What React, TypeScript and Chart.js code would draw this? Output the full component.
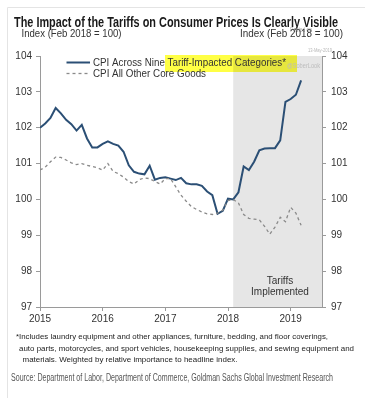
import React, { useEffect, useRef } from "react";
import { Chart, registerables } from "chart.js";

Chart.register(...registerables);

// Monthly index: 0 = Jan 2015 ... 50 = Mar 2019
const tariffCategories = [
  102.0, 102.12, 102.27, 102.55, 102.4, 102.22, 102.1, 101.92, 102.08, 101.7,
  101.45, 101.45, 101.55, 101.62, 101.55, 101.5, 101.33, 100.95, 100.77, 100.72,
  100.7, 100.94, 100.55, 100.6, 100.62, 100.58, 100.54, 100.6, 100.45, 100.42,
  100.42, 100.38, 100.22, 100.12, 99.6, 99.68, 100.02, 100.0, 100.2, 100.92,
  100.82, 101.05, 101.37, 101.42, 101.43, 101.43, 101.65, 102.72, 102.8, 102.92,
  103.32,
];
const otherCoreGoods = [
  100.82, 100.9, 101.05, 101.18, 101.17, 101.1, 101.02, 100.97, 101.0, 100.95,
  100.92, 100.88, 100.82, 101.0, 100.78, 100.72, 100.62, 100.5, 100.43, 100.55,
  100.6, 100.58, 100.5, 100.43, 100.58, 100.58, 100.35, 100.12, 99.95, 99.8,
  99.72, 99.65, 99.6, 99.58, 99.62, 99.7, 99.97, 100.0, 99.9, 99.58,
  99.47, 99.45, 99.43, 99.25, 99.03, 99.23, 99.5, 99.38, 99.78, 99.62,
  99.28,
];
const yearLabels = ["2015", "2016", "2017", "2018", "2019"];
const yearTickMonths = [0, 12, 24, 36, 48];
const tariffStartMonth = 37; // Feb 2018
const xMaxMonth = 54;
const yMin = 97;
const yMax = 104;

const seriesNames = ["CPI Across Nine Tariff-Impacted Categories*", "CPI All Other Core Goods"];

function fitText(
  ctx: CanvasRenderingContext2D,
  text: string,
  x: number,
  y: number,
  width: number,
  font: string,
  color: string
) {
  ctx.save();
  ctx.font = font;
  ctx.fillStyle = color;
  ctx.textBaseline = "alphabetic";
  ctx.textAlign = "left";
  const w = ctx.measureText(text).width;
  ctx.translate(x, y);
  ctx.scale(width / w, 1);
  ctx.fillText(text, 0, 0);
  ctx.restore();
}

const SANS = "'Liberation Sans', Arial, sans-serif";
const NARROW = "'Liberation Sans Narrow', 'Arial Narrow', 'Liberation Sans', Arial, sans-serif";

const decorPlugin = {
  id: "decor",
  beforeDraw(chart: any) {
    const { ctx, chartArea, scales } = chart;
    const x0 = scales.x.getPixelForValue(tariffStartMonth);
    ctx.save();
    ctx.fillStyle = "#e6e6e6";
    ctx.fillRect(x0, chartArea.top, chartArea.right - x0, chartArea.bottom - chartArea.top);
    ctx.restore();
  },
  afterDraw(chart: any) {
    const { ctx } = chart;
    // frame
    ctx.save();
    ctx.strokeStyle = "#e4e4e4";
    ctx.lineWidth = 1;
    ctx.beginPath();
    ctx.moveTo(7.5, 398);
    ctx.lineTo(7.5, 7.5);
    ctx.lineTo(365, 7.5);
    ctx.stroke();
    ctx.restore();

    // title
    fitText(ctx, "The Impact of the Tariffs on Consumer Prices Is Clearly Visible", 14, 27, 324, `bold 15px ${NARROW}`, "#1a1a1a");
    // watermarks
    fitText(ctx, "Posted on", 290, 32, 22, `7px ${SANS}`, "#b0b0b0");
    fitText(ctx, "13-May-2019", 308, 52, 24, `6px ${SANS}`, "#b8b8b8");
    // axis titles
    fitText(ctx, "Index (Feb 2018 = 100)", 21.5, 37, 100, `11px ${SANS}`, "#333");
    fitText(ctx, "Index (Feb 2018 = 100)", 240, 37, 103, `11px ${SANS}`, "#333");

    // legend
    ctx.save();
    ctx.globalCompositeOperation = "multiply";
    ctx.fillStyle = "#ffff45";
    ctx.fillRect(165, 55, 132, 17);
    ctx.restore();
    fitText(ctx, "@SoberLook", 287, 68, 33, `8px ${SANS}`, "#bcbcbc");

    ctx.save();
    ctx.strokeStyle = "#2b4f75";
    ctx.lineWidth = 2;
    ctx.beginPath();
    ctx.moveTo(66.5, 62.5);
    ctx.lineTo(90, 62.5);
    ctx.stroke();
    ctx.strokeStyle = "#8a8a8a";
    ctx.lineWidth = 1.3;
    ctx.setLineDash([3, 3]);
    ctx.beginPath();
    ctx.moveTo(66.5, 73.5);
    ctx.lineTo(90, 73.5);
    ctx.stroke();
    ctx.restore();
    fitText(ctx, seriesNames[0], 93, 66, 193, `11px ${SANS}`, "#333");
    fitText(ctx, seriesNames[1], 93, 77, 113, `11px ${SANS}`, "#333");

    // tariffs label
    ctx.save();
    ctx.font = `10px ${SANS}`;
    ctx.fillStyle = "#333";
    ctx.textAlign = "center";
    ctx.fillText("Tariffs", 280, 284);
    ctx.fillText("Implemented", 280, 294.5);
    ctx.restore();

    // footnotes
    fitText(ctx, "*Includes laundry equipment and other appliances, furniture, bedding, and floor coverings,", 16, 339, 312, `8px ${SANS}`, "#222");
    fitText(ctx, "auto parts, motorcycles, and sport vehicles, housekeeping supplies, and sewing equipment and", 19, 350.5, 335, `8px ${SANS}`, "#222");
    fitText(ctx, "materials. Weighted by relative importance to headline index.", 22.5, 362, 215, `8px ${SANS}`, "#222");
    // source
    fitText(ctx, "Source: Department of Labor, Department of Commerce, Goldman Sachs Global Investment Research", 11, 380.5, 322, `10px ${NARROW}`, "#555");
  },
};

export default function App() {
  const ref = useRef<HTMLCanvasElement | null>(null);
  useEffect(() => {
    if (!ref.current) return;
    const toPoints = (arr: number[]) => arr.map((v, i) => ({ x: i, y: v }));
    const axisColor = "#9a9a9a";
    const tickFont = { family: SANS, size: 10 };
    const chart = new Chart(ref.current, {
      type: "line",
      data: {
        datasets: [
          {
            label: seriesNames[1],
            data: toPoints(otherCoreGoods),
            borderColor: "#8a8a8a",
            borderWidth: 1.3,
            borderDash: [3, 3],
            pointRadius: 0,
            tension: 0,
            yAxisID: "y",
          },
          {
            label: seriesNames[0],
            data: toPoints(tariffCategories),
            borderColor: "#2b4f75",
            borderWidth: 2,
            pointRadius: 0,
            tension: 0,
            yAxisID: "y",
          },
        ],
      },
      plugins: [decorPlugin],
      options: {
        animation: false,
        responsive: false,
        devicePixelRatio: 1,
        layout: { padding: { top: 56, left: 0, right: 0, bottom: 0 } },
        plugins: { legend: { display: false }, tooltip: { enabled: false } },
        scales: {
          x: {
            type: "linear",
            min: 0,
            max: xMaxMonth,
            afterBuildTicks: (s: any) => {
              s.ticks = yearTickMonths.map((v) => ({ value: v }));
            },
            afterFit: (s: any) => {
              s.height = 91;
            },
            ticks: {
              autoSkip: false,
              maxRotation: 0,
              padding: 2,
              color: "#333",
              font: tickFont,
              callback: (v: any) => {
                const idx = yearTickMonths.indexOf(Number(v));
                return idx >= 0 ? yearLabels[idx] : "";
              },
            },
            grid: { drawOnChartArea: false, color: axisColor, tickLength: 4 },
            border: { color: axisColor },
          },
          y: {
            position: "left",
            min: yMin,
            max: yMax,
            afterFit: (s: any) => {
              s.width = 40;
            },
            ticks: { stepSize: 1, padding: 4, color: "#333", font: tickFont },
            grid: { drawOnChartArea: false, color: axisColor, tickLength: 4 },
            border: { color: axisColor },
          },
          y2: {
            position: "right",
            min: yMin,
            max: yMax,
            afterFit: (s: any) => {
              s.width = 51;
            },
            ticks: { stepSize: 1, padding: 5, color: "#333", font: tickFont },
            grid: { drawOnChartArea: false, color: axisColor, tickLength: 4 },
            border: { color: axisColor },
          },
        },
      },
    });
    return () => chart.destroy();
  }, []);
  return (
    <div style={{ position: "absolute", left: 0, top: 0, width: 373, height: 398, background: "#fff" }}>
      <canvas ref={ref} width={373} height={398} style={{ width: 373, height: 398, display: "block" }} />
    </div>
  );
}
